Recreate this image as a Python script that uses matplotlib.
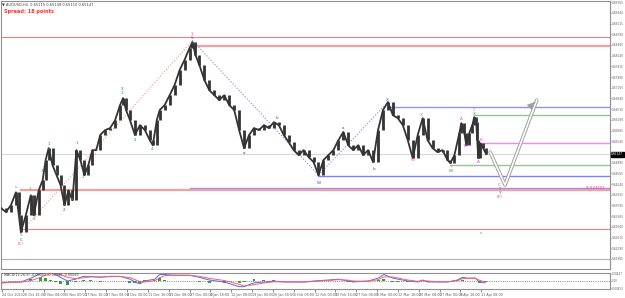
import matplotlib.pyplot as plt
import numpy as np

# H4 bars (about one pixel per bar) and closing prices
bars = [0, 5, 10, 15, 18, 20, 25, 30, 33, 38, 42, 45, 48, 52, 56, 60, 64, 68, 72, 76,
        80, 84, 88, 92, 96, 100, 105, 110, 115, 120, 123, 126, 130, 135, 140, 145, 150, 153, 157, 160,
        165, 170, 175, 180, 185, 190, 193, 196, 200, 205, 210, 215, 220, 225, 230, 235, 240, 245, 250, 255,
        260, 265, 270, 275, 280, 285, 290, 295, 300, 305, 310, 315, 320, 325, 330, 335, 340, 345, 350, 355,
        360, 365, 370, 375, 380, 385, 390, 395, 400, 405, 410, 415, 420, 425, 430, 435, 440, 445, 450, 453,
        457, 462, 464, 467, 469, 472, 475, 477, 479, 480, 481, 483, 486, 489]
closes = [0.6351, 0.6339, 0.6360, 0.6399, 0.6329, 0.6278, 0.6329, 0.6390, 0.6329, 0.6405,
          0.6436, 0.6497, 0.6533, 0.6481, 0.6451, 0.6421, 0.6360, 0.6405, 0.6375, 0.6527,
          0.6497, 0.6451, 0.6481, 0.6527, 0.6527, 0.6573, 0.6588, 0.6594, 0.6618, 0.6664,
          0.6685, 0.6649, 0.6618, 0.6573, 0.6603, 0.6588, 0.6557, 0.6542, 0.6618, 0.6649,
          0.6664, 0.6694, 0.6725, 0.6770, 0.6801, 0.6837, 0.6855, 0.6816, 0.6785, 0.6740,
          0.6709, 0.6694, 0.6679, 0.6694, 0.6664, 0.6649, 0.6588, 0.6533, 0.6573, 0.6594,
          0.6588, 0.6603, 0.6594, 0.6612, 0.6603, 0.6573, 0.6551, 0.6527, 0.6512, 0.6527,
          0.6506, 0.6491, 0.6451, 0.6497, 0.6512, 0.6527, 0.6557, 0.6582, 0.6542, 0.6527,
          0.6542, 0.6512, 0.6527, 0.6491, 0.6588, 0.6649, 0.6673, 0.6633, 0.6624, 0.6603,
          0.6557, 0.6503, 0.6573, 0.6624, 0.6557, 0.6533, 0.6521, 0.6527, 0.6497, 0.6488,
          0.6512, 0.6579, 0.6609, 0.6579, 0.6542, 0.6579, 0.6603, 0.6627, 0.6612, 0.6557,
          0.6503, 0.6548, 0.6533, 0.6515]

# MACD(12,26,9) main / signal
macd_bars = [0, 10, 20, 30, 40, 45, 50, 55, 60, 67, 75, 83, 90, 100, 110, 120, 130, 135, 140, 145,
             155, 160, 165, 175, 190, 200, 210, 225, 240, 245, 255, 265, 275, 285, 295, 305, 315, 330, 340, 350,
             355, 370, 380, 386, 395, 400, 410, 420, 425, 430, 440, 450, 460, 465, 470, 478, 482, 488]
macd_main = [-0.0011, -0.0006, -0.0006, 0.0017, 0.0045, 0.0056, 0.0050, 0.0039, 0.0022, 0.0000,
             0.0011, 0.0028, 0.0028, 0.0022, 0.0028, 0.0028, 0.0011, -0.0006, -0.0017, 0.0000,
             0.0011, 0.0039, 0.0039, 0.0034, 0.0034, 0.0022, 0.0006, -0.0006, -0.0034, -0.0034,
             -0.0011, -0.0006, 0.0000, -0.0006, -0.0006, -0.0006, 0.0000, 0.0006, 0.0011, 0.0000,
             -0.0006, 0.0000, 0.0017, 0.0039, 0.0017, 0.0011, 0.0000, -0.0006, 0.0006, -0.0006,
             -0.0006, -0.0006, 0.0006, 0.0022, 0.0017, 0.0017, -0.0006, -0.0011]
macd_signal = [-0.0012, -0.0009, -0.0007, 0.0002, 0.0022, 0.0035, 0.0044, 0.0045, 0.0038, 0.0022,
               0.0014, 0.0019, 0.0024, 0.0025, 0.0026, 0.0027, 0.0020, 0.0008, -0.0004, -0.0006,
               0.0002, 0.0020, 0.0032, 0.0035, 0.0034, 0.0028, 0.0016, 0.0003, -0.0020, -0.0030,
               -0.0022, -0.0012, -0.0005, -0.0005, -0.0006, -0.0006, -0.0003, 0.0003, 0.0008, 0.0005,
               0.0000, -0.0002, 0.0008, 0.0025, 0.0024, 0.0018, 0.0006, -0.0002, 0.0002, 0.0000,
               -0.0004, -0.0005, 0.0002, 0.0014, 0.0016, 0.0017, 0.0005, -0.0006]

time_labels = ["24 Oct 2023", "26 Oct 16:00", "3 Nov 08:00", "10 Nov 00:00", "17 Nov 16:00",
               "27 Nov 08:00", "4 Dec 00:00", "11 Dec 16:00", "19 Dec 08:00", "27 Dec 00:00",
               "4 Jan 16:00", "12 Jan 08:00", "19 Jan 00:00", "26 Jan 16:00", "5 Feb 08:00",
               "12 Feb 00:00", "19 Feb 16:00", "27 Feb 08:00", "5 Mar 00:00", "12 Mar 16:00",
               "20 Mar 08:00", "27 Mar 00:00", "3 Apr 16:00", "11 Apr 08:00"]
price_ticks = [0.69765, 0.69440, 0.69115, 0.68790, 0.68465, 0.68140, 0.67815, 0.67490, 0.67165,
               0.66840, 0.66515, 0.66190, 0.65865, 0.65540, 0.64890, 0.64565, 0.64240,
               0.63915, 0.63590, 0.63265, 0.62940, 0.62615, 0.62290, 0.61965]
last_price = 0.65147

# horizontal levels: price, start bar, colour, width
levels = [(0.6871, 0, '#f08080', 0.8), (0.6843, 193, '#f4a0a0', 1.6),
          (0.6658, 390, '#9090ff', 1.0), (0.6633, 477, '#90c890', 1.0),
          (0.6548, 483, '#ff80ff', 1.0), (0.6515, 0, '#d8d8d8', 0.8),
          (0.6481, 453, '#90c890', 1.0), (0.6448, 320, '#8080ff', 1.0),
          (0.6411, 190, '#9090ff', 1.0), (0.6405, 20, '#f4a0a0', 1.6),
          (0.6287, 20, '#f08080', 0.8), (0.6196, 0, '#b0b0b0', 0.8)]

# wave labels: bar, price, text, colour
waves = [(16, 0.6415, 'iv', '#ff40ff'), (20, 0.6268, '5', '#30a030'), (20, 0.6255, 'C', '#4040ff'),
         (20, 0.6242, '(C)', '#ff4040'), (29, 0.6408, '1', '#30a030'), (33, 0.6318, '2', '#30a030'),
         (41, 0.6465, '3', '#30a030'), (48, 0.6545, '1', '#4040ff'), (48, 0.6530, '5', '#30a030'),
         (55, 0.6462, 'a', '#30a030'), (64, 0.6360, 'c', '#30a030'), (64, 0.6345, '2', '#4040ff'),
         (72, 0.6378, 'a', '#30a030'), (76, 0.6548, '1', '#30a030'), (83, 0.6444, '2', '#30a030'),
         (96, 0.6515, 'ii', '#ff40ff'), (122, 0.6714, '3', '#4040ff'), (122, 0.6700, '3', '#30a030'),
         (135, 0.6557, '4', '#30a030'), (152, 0.6531, '4', '#30a030'), (192, 0.6880, '1', '#ff4040'),
         (192, 0.6867, '5', '#4040ff'), (192, 0.6853, '5', '#30a030'), (245, 0.6518, 'a', '#505050'),
         (278, 0.6624, 'b', '#505050'), (320, 0.6427, 'W', '#4040ff'), (345, 0.6594, 'a', '#505050'),
         (376, 0.6470, 'b', '#505050'), (389, 0.6679, 'X', '#4040ff'), (389, 0.6664, 'c', '#30a030'),
         (415, 0.6497, 'W', '#ff40ff'), (424, 0.6633, 'X', '#ff40ff'), (453, 0.6476, 'Y', '#ff40ff'),
         (453, 0.6463, 'W', '#30a030'), (464, 0.6621, 'A', '#ff40ff'), (468, 0.6539, 'B', '#ff40ff'),
         (477, 0.6648, 'C', '#ff40ff'), (477, 0.6636, 'X', '#30a030'), (481, 0.6490, 'A', '#ff40ff'),
         (484, 0.6557, 'B', '#ff40ff'), (502, 0.6421, 'C', '#ff40ff'), (502, 0.6408, 'Y', '#30a030'),
         (502, 0.6396, 'Y', '#4040ff'), (502, 0.6384, '(Y)', '#ff4040'), (484, 0.6275, 'o', '#909090')]

# projected path
proj_bars = [493, 508, 540]
proj_price = [0.6521, 0.6421, 0.6679]

fig = plt.figure(figsize=(6.25, 2.98), dpi=100)
ax = fig.add_axes([1 / 625, 29 / 298, 609 / 625, 268 / 298])
ax2 = fig.add_axes([1 / 625, 9 / 298, 609 / 625, 16 / 298])

xmax = 613.8
ymin, ymax = 0.6166, 0.6980
ax.set_xlim(0, xmax)
ax.set_ylim(ymin, ymax)

for p, b, c, w in levels:
    ax.plot([b, xmax], [p, p], color=c, lw=w, zorder=1)

# dotted trend lines between swing points
ax.plot([20, 193], [0.6278, 0.6860], color='#ff9090', ls=':', lw=0.8, zorder=1)
ax.plot([193, 320], [0.6860, 0.6451], color='#8080ff', ls=':', lw=0.8, zorder=1)
ax.plot([320, 390], [0.6451, 0.6673], color='#8080ff', ls=':', lw=0.8, zorder=1)

opens = [closes[0]] + closes[:-1]
ax.vlines(bars, opens, closes, color='#333333', lw=2.0, zorder=3)
ax.plot(bars, closes, color='#333333', lw=1.3, zorder=3)

ax.plot(proj_bars, proj_price, color='#a0a0a0', lw=2.6, solid_capstyle='round', zorder=2)
ax.plot(proj_bars, proj_price, color='white', lw=1.2, zorder=2)
ax.annotate('', xy=(proj_bars[-1], proj_price[-1]), xytext=(proj_bars[-1] - 4, proj_price[-1] - 0.0012),
            arrowprops=dict(arrowstyle='-|>', color='#a0a0a0', lw=1.0), zorder=2)

for b, p, t, c in waves:
    ax.text(b, p, t, color=c, fontsize=3.0, ha='center', va='center', zorder=4)

ax.text(608, 0.6413, 'Y) 0.64107', color='#ff3080', fontsize=2.6, ha='right', va='center')

ax.set_yticks(price_ticks)
ax.set_yticklabels(['%.5f' % v for v in price_ticks])
ax.yaxis.tick_right()
ax.tick_params(axis='y', labelsize=2.1, colors='#606060', length=1, width=0.5, pad=0.5)
ax.set_xticks([])
for s in ax.spines.values():
    s.set_color('#909090')
    s.set_linewidth(0.8)

ax.text(1.002, (last_price - ymin) / (ymax - ymin), '%.5f' % last_price, transform=ax.transAxes,
        fontsize=2.1, color='white', va='center', ha='left',
        bbox=dict(boxstyle='square,pad=0.12', fc='black', ec='black'))

# MACD window
ax2.set_xlim(0, xmax)
ax2.set_ylim(-0.0048, 0.0048)
hist = [m - s for m, s in zip(macd_main, macd_signal)]
ax2.bar(macd_bars, hist, width=3, color='#30a030', zorder=2)
ax2.plot(macd_bars, macd_main, color='#6060ff', lw=0.7, zorder=3)
ax2.plot(macd_bars, macd_signal, color='#ff6060', lw=0.7, zorder=3)
ax2.axhline(0, color='#606060', lw=0.6, ls=':', zorder=1)
ax2.text(3, 0.0034, 'MACD(12,26,9) -0.00003 -0.00046 -0.00049', fontsize=2.4, color='#404040', va='center')
ax2.set_yticks([0.0044, 0.0, -0.0044])
ax2.set_yticklabels(['0.00447', '0.00', '-0.00453'])
ax2.yaxis.tick_right()
ax2.tick_params(axis='y', labelsize=2.0, colors='#606060', length=1, width=0.5, pad=0.5)
ax2.set_xticks([1 + 21 * i for i in range(len(time_labels))])
ax2.set_xticklabels(time_labels, ha='left')
ax2.tick_params(axis='x', labelsize=2.4, colors='#606060', length=2, width=0.5, pad=0.8)
for s in ax2.spines.values():
    s.set_color('#909090')
    s.set_linewidth(0.8)

fig.text(2 / 625, 1 - 5 / 298, '\u25bc AUDUSD,H4  0.65115 0.65149 0.65110 0.65147', fontsize=2.6,
         color='#404040', va='center')
fig.text(4 / 625, 1 - 12 / 298, 'Spread: 18 points', fontsize=3.6, color='#ff3030', va='center',
         fontweight='bold')

fig.savefig('out.png', dpi=100)
